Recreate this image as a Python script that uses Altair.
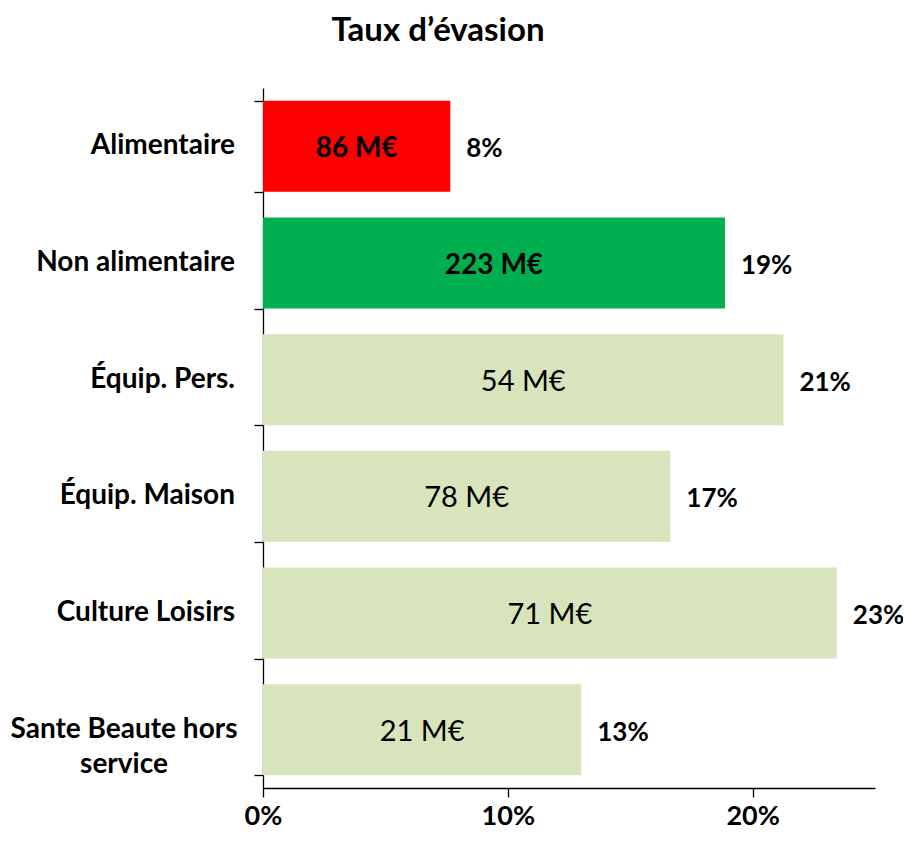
import altair as alt
import pandas as pd

categories = ["Alimentaire", "Non alimentaire", "Équip. Pers.", "Équip. Maison",
              "Culture Loisirs", "Sante Beaute hors\nservice"]
rates = [0.0765, 0.1887, 0.2126, 0.1664, 0.2344, 0.1300]
amounts = ["86 M€", "223 M€", "54 M€", "78 M€", "71 M€", "21 M€"]
bold_amount = [True, True, False, False, False, False]
colors = ["#FF0000", "#00B050", "#D8E4BC", "#D8E4BC", "#D8E4BC", "#D8E4BC"]
x_ticks = [0, 0.1, 0.2]

df = pd.DataFrame({
    "cat": categories,
    "rate": rates,
    "amount": amounts,
    "bold": bold_amount,
})

FONT = "Lato"

y_enc = alt.Y("cat:N", sort=categories,
              scale=alt.Scale(paddingInner=0.22, paddingOuter=0.11),
              axis=alt.Axis(labels=False, title=None, tickBand="extent", tickExtra=True,
                            domainColor="black", tickColor="black", tickSize=9,
                            domainWidth=1.3, tickWidth=1.3))
x_enc = alt.X("rate:Q",
              scale=alt.Scale(domain=[0, 0.25], nice=False),
              axis=alt.Axis(values=x_ticks, format=".0%", title=None, grid=False,
                            domainColor="black", tickColor="black", tickSize=9,
                            domainWidth=1.3, tickWidth=1.3, labelFlush=False,
                            labelFont=FONT, labelFontSize=27, labelFontWeight="bold",
                            labelColor="black", labelPadding=6))

base = alt.Chart(df)

bars = base.mark_bar().encode(
    y=y_enc,
    x=x_enc,
    color=alt.Color("cat:N", scale=alt.Scale(domain=categories, range=colors), legend=None),
)

mid = base.transform_calculate(half="datum.rate / 2")

amt_bold = mid.transform_filter("datum.bold").mark_text(
    font=FONT, fontSize=28, fontWeight="bold", color="black", align="center",
    baseline="middle", dy=3
).encode(y=alt.Y("cat:N", sort=categories), x=alt.X("half:Q"), text="amount:N")

amt_reg = mid.transform_filter("!datum.bold").mark_text(
    font=FONT, fontSize=29, fontWeight="normal", color="black", align="center",
    baseline="middle", dy=2
).encode(y=alt.Y("cat:N", sort=categories), x=alt.X("half:Q"), text="amount:N")

pct = base.mark_text(
    font=FONT, fontSize=26, fontWeight="bold", color="black", align="left",
    baseline="middle", dx=16, dy=3
).encode(y=alt.Y("cat:N", sort=categories), x=alt.X("rate:Q"),
         text=alt.Text("rate:Q", format=".0%"))

cat_single = base.transform_filter("indexof(datum.cat, '\\n') < 0").mark_text(
    font=FONT, fontSize=28, fontWeight="bold", color="black", align="right",
    baseline="middle"
).encode(y=alt.Y("cat:N", sort=categories), x=alt.value(-28), text="cat:N")

cat_multi = base.transform_filter("indexof(datum.cat, '\\n') >= 0").mark_text(
    font=FONT, fontSize=28, fontWeight="bold", color="black", align="center",
    baseline="middle", lineBreak="\n", lineHeight=35
).encode(y=alt.Y("cat:N", sort=categories), x=alt.value(-139), text="cat:N")

chart = alt.layer(bars, amt_bold, amt_reg, pct, cat_single, cat_multi).properties(
    width=612,
    height=700,
    title=alt.TitleParams("Taux d’évasion", font=FONT, fontSize=33, fontWeight="bold",
                          color="black", anchor="middle", frame="group", dx=-131,
                          baseline="alphabetic", offset=14),
    autosize=alt.AutoSizeParams(type="none"),
    padding={"left": 255, "top": 80, "right": 28, "bottom": 46},
    background="white",
).configure_view(stroke=None)

chart.save("out.html", embed_options={"renderer": "svg", "actions": False})
